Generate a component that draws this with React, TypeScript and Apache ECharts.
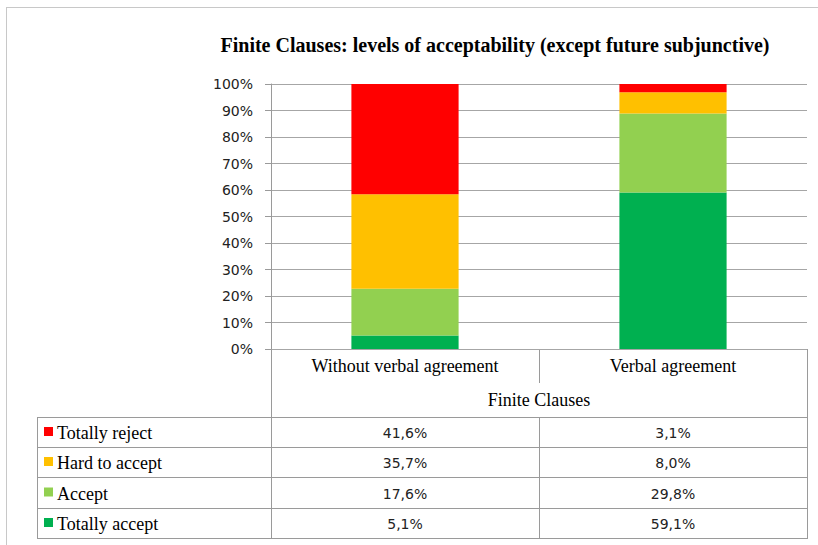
import React, { useEffect, useRef } from "react";
import * as echarts from "echarts";

const title = "Finite Clauses: levels of acceptability (except future subjunctive)";
const categories = ["Without verbal agreement", "Verbal agreement"];
const axisGroupLabel = "Finite Clauses";
// listed top (table order) to bottom
const seriesNames = ["Totally reject", "Hard to accept", "Accept", "Totally accept"];
const seriesColors = ["#ff0000", "#ffc000", "#92d050", "#00b050"];
const totallyReject = [41.6, 3.1];
const hardToAccept = [35.7, 8.0];
const accept = [17.6, 29.8];
const totallyAccept = [5.1, 59.1];
const seriesValues = [totallyReject, hardToAccept, accept, totallyAccept];
const yTicks = [0, 10, 20, 30, 40, 50, 60, 70, 80, 90, 100];

const W = 818;
const H = 545;
const gridLeft = 271;
const gridRight = 807;
const gridTop = 84;
const gridBottom = 349;
const tableLeft = 37;
const headerSplit = 383;
const rowLines = [417, 447, 477, 508, 538];
const lineColor = "#9a9a9a";
const serif = "'Liberation Serif', 'DejaVu Serif', serif";
const sans = "'DejaVu Sans', 'Liberation Sans', sans-serif";

const fmt = (v: number) => v.toFixed(1).replace(".", ",") + "%";

export default function App() {
  const ref = useRef<HTMLDivElement>(null);
  useEffect(() => {
    if (!ref.current) return;
    const chart = echarts.init(ref.current, null, { renderer: "svg" });
    const colW = (gridRight - gridLeft) / categories.length;
    const midX = gridLeft + colW;

    const graphics: any[] = [];
    const ln = (x1: number, y1: number, x2: number, y2: number, color = lineColor) =>
      graphics.push({
        type: "line",
        shape: { x1, y1, x2, y2 },
        style: { stroke: color, lineWidth: 1 },
        silent: true,
      });
    // outer frame
    ln(6, 7.5, W, 7.5, "#c8c8c8");
    ln(6.5, 7, 6.5, H, "#c8c8c8");
    // table lines
    ln(gridLeft + 0.5, gridBottom, gridLeft + 0.5, rowLines[rowLines.length - 1]);
    ln(gridRight + 0.5, gridBottom, gridRight + 0.5, rowLines[rowLines.length - 1]);
    ln(midX + 0.5, gridBottom, midX + 0.5, headerSplit);
    ln(midX + 0.5, rowLines[0], midX + 0.5, rowLines[rowLines.length - 1]);
    ln(tableLeft + 0.5, rowLines[0], tableLeft + 0.5, rowLines[rowLines.length - 1]);
    rowLines.forEach((y) => ln(tableLeft, y + 0.5, gridRight + 1, y + 0.5));
    ln(265, gridBottom + 0.5, gridRight + 1, gridBottom + 0.5);

    graphics.push({
      type: "text",
      x: gridLeft + (gridRight - gridLeft) / 2,
      y: (headerSplit + rowLines[0]) / 2,
      style: {
        text: axisGroupLabel,
        font: `18px ${serif}`,
        fill: "#000",
        textAlign: "center",
        textVerticalAlign: "middle",
      },
    });

    seriesNames.forEach((name, i) => {
      const y = (rowLines[i] + rowLines[i + 1]) / 2;
      graphics.push({
        type: "rect",
        shape: { x: 44, y: y - 5, width: 9, height: 9 },
        style: { fill: seriesColors[i] },
      });
      graphics.push({
        type: "text",
        x: 57,
        y: y + 1,
        style: {
          text: name,
          font: `18px ${serif}`,
          fill: "#000",
          textAlign: "left",
          textVerticalAlign: "middle",
        },
      });
      seriesValues[i].forEach((v, j) => {
        graphics.push({
          type: "text",
          x: gridLeft + colW * (j + 0.5),
          y: y + 1,
          style: {
            text: fmt(v),
            font: `14px ${sans}`,
            fill: "#222",
            textAlign: "center",
            textVerticalAlign: "middle",
          },
        });
      });
    });

    const series = seriesNames
      .map((name, i) => ({
        name,
        type: "bar",
        stack: "total",
        barWidth: "40%",
        data: seriesValues[i],
        itemStyle: { color: seriesColors[i] },
      }))
      .reverse();

    chart.setOption({
      animation: false,
      title: {
        text: title,
        left: 490,
        top: 30,
        textAlign: "center",
        textStyle: { fontFamily: serif, fontWeight: "bold", fontSize: 20, color: "#000" },
      },
      grid: {
        left: gridLeft,
        right: W - gridRight,
        top: gridTop,
        bottom: H - gridBottom,
      },
      xAxis: {
        type: "category",
        data: categories,
        axisLine: { show: false },
        axisTick: { show: false },
        axisLabel: {
          fontFamily: serif,
          fontSize: 18,
          color: "#000",
          margin: 8,
          interval: 0,
        },
      },
      yAxis: {
        type: "value",
        min: yTicks[0],
        max: yTicks[yTicks.length - 1],
        interval: 10,
        axisLine: { show: true, lineStyle: { color: lineColor } },
        axisTick: { show: true, length: 6, lineStyle: { color: lineColor } },
        splitLine: { show: true, lineStyle: { color: "#a6a6a6" } },
        axisLabel: {
          formatter: "{value}%",
          fontFamily: sans,
          fontSize: 14,
          color: "#222",
          margin: 18,
        },
      },
      graphic: graphics,
      series,
    });
    return () => chart.dispose();
  }, []);
  return (
    <div
      ref={ref}
      style={{ position: "fixed", left: 0, top: 0, width: W, height: H, background: "#fff" }}
    />
  );
}
